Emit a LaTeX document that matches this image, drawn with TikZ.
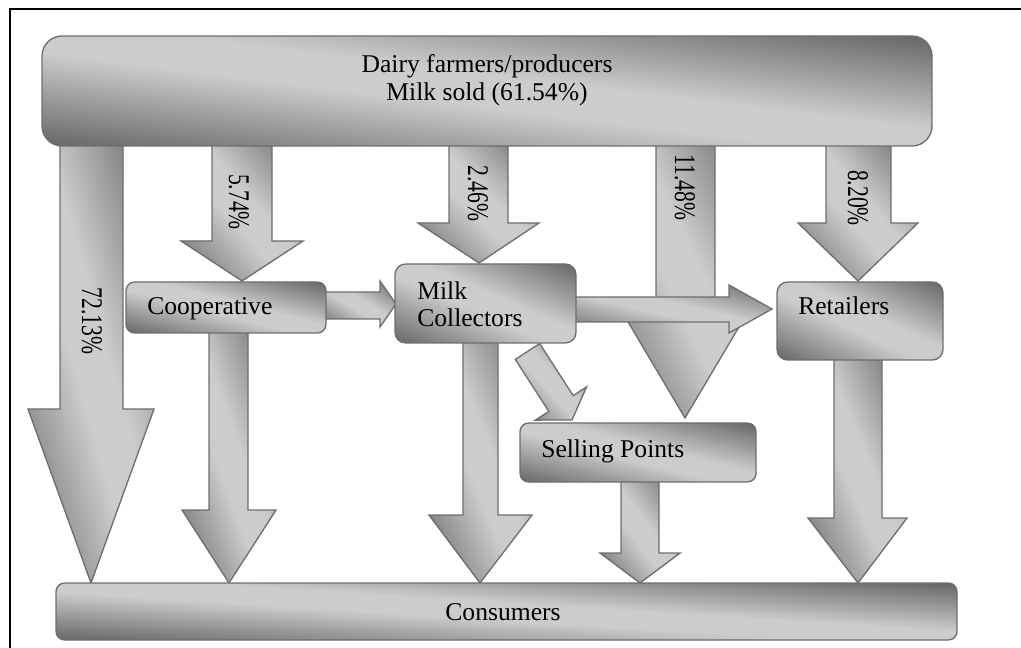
\documentclass[tikz,border=0pt]{standalone}
\usepackage{fontspec}
\setmainfont{Liberation Serif}
\definecolor{edge}{gray}{0.43}
\pgfdeclarefunctionalshading{diaggrad}{\pgfpoint{0bp}{0bp}}{\pgfpoint{100bp}{100bp}}{}{
  add 50 sub 100 div
  2 mul 1 sub abs
  1 exch sub
  0.85 div
  dup 1 gt {pop 1} if
  dup 0 lt {pop 0} if
  0.4 mul 0.4 add
  dup dup
}
\tikzset{
  grad/.style={draw=edge, line width=1pt, line join=miter, shading=diaggrad},
  box/.style={grad, inner sep=0pt, outer sep=0pt},
  lbl/.style={font=\fontsize{19.2}{20.25}\selectfont, inner sep=0pt},
  pct/.style={font=\fontsize{22.5}{24}\selectfont, inner sep=0pt, rotate=-90},
}
\begin{document}
\begin{tikzpicture}[x=0.75pt,y=-0.75pt]
\useasboundingbox (0,0) rectangle (1021,648);
\draw[line width=1.5pt] (10,648) -- (10,9) -- (1021,9);

% arrows from the producers box
\draw[grad] (60,140) -- (60,409) -- (28,409) -- (91,583) -- (154,409) -- (123,409) -- (123,140) -- cycle;
\draw[grad] (212,140) -- (212,241) -- (181,241) -- (242,281) -- (303,241) -- (272,241) -- (272,140) -- cycle;
\draw[grad] (449,140) -- (449,223) -- (418,223) -- (479,263) -- (539,223) -- (508,223) -- (508,140) -- cycle;
\draw[grad] (656,140) -- (656,305) -- (618,305) -- (685,418) -- (752,305) -- (715,305) -- (715,140) -- cycle;
\draw[grad] (826,140) -- (826,223) -- (798,223) -- (858,281) -- (918,223) -- (891,223) -- (891,140) -- cycle;

% arrows to consumers
\draw[grad] (209,330) -- (209,510) -- (182,510) -- (229,583) -- (276,510) -- (248,510) -- (248,330) -- cycle;
\draw[grad] (463,340) -- (463,515) -- (429,515) -- (480,583) -- (532,515) -- (498,515) -- (498,340) -- cycle;
\draw[grad] (621,478) -- (621,553) -- (600,553) -- (640,583) -- (680,553) -- (659,553) -- (659,478) -- cycle;
\draw[grad] (834,356) -- (834,518) -- (808,518) -- (858,583) -- (907,518) -- (882,518) -- (882,356) -- cycle;

% milk collectors -> selling points (diagonal)
\draw[grad] (515.3,359.4) -- (548.8,411.4) -- (535.4,420.1) -- (572,420) -- (586.6,386.9) -- (573.2,395.6) -- (539.7,343.6) -- cycle;

% horizontal arrows
\draw[grad] (320,292) -- (380,292) -- (380,281) -- (396,304) -- (380,327) -- (380,319) -- (320,319) -- cycle;
\draw[grad] (570,297) -- (729,297) -- (729,285) -- (772,309) -- (729,333) -- (729,322) -- (570,322) -- cycle;

% boxes
\node[box, minimum width=667.5pt, minimum height=82.5pt, rounded corners=15pt] (prod) at (487,91) {};
\node[box, minimum width=150pt, minimum height=38.25pt, rounded corners=6.5pt] (coop) at (226,307.5) {};
\node[box, minimum width=135.75pt, minimum height=59.25pt, rounded corners=8pt] (milk) at (485.5,303.5) {};
\node[box, minimum width=124.5pt, minimum height=58.5pt, rounded corners=8pt] (ret) at (860,321) {};
\node[box, minimum width=177pt, minimum height=44.25pt, rounded corners=6.5pt] (sell) at (638,452.5) {};
\node[box, minimum width=675.75pt, minimum height=42.75pt, rounded corners=6.5pt] (cons) at (506.5,611.5) {};

% box texts
\node[lbl, anchor=base] (prodA) at (487,73) {Dairy farmers/producers};
\node[lbl, anchor=base] (prodB) at (487,101) {Milk sold (61.54\%)};
\node[lbl, anchor=base west] (coopT) at (147,315) {Cooperative};
\node[lbl, anchor=base west] (milkA) at (417,300) {Milk};
\node[lbl, anchor=base west] (milkB) at (417,327) {Collectors};
\node[lbl, anchor=base west] (retT) at (798,315) {Retailers};
\node[lbl, anchor=base west] (sellT) at (541,457) {Selling Points};
\node[lbl, anchor=base] (consT) at (503,620) {Consumers};

% percentages
\node[pct] (p1) at (92,321) {\scalebox{0.72}[1]{72.13\%}};
\node[pct] (p2) at (239,202) {\scalebox{0.72}[1]{5.74\%}};
\node[pct] (p3) at (478,193.5) {\scalebox{0.72}[1]{2.46\%}};
\node[pct] (p4) at (685,187.5) {\scalebox{0.72}[1]{11.48\%}};
\node[pct] (p5) at (858,198) {\scalebox{0.72}[1]{8.20\%}};
\end{tikzpicture}
\end{document}
